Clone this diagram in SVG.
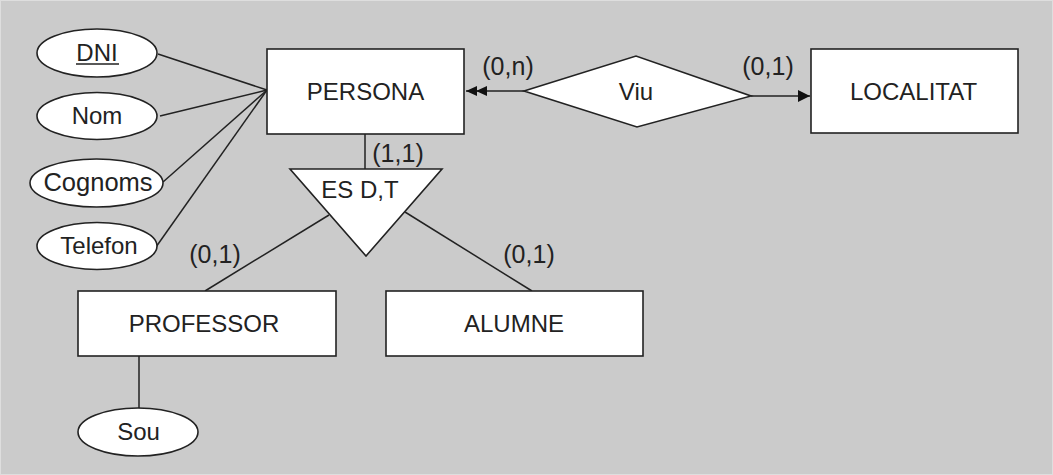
<svg xmlns="http://www.w3.org/2000/svg" width="1053" height="475" viewBox="0 0 1053 475">
<style>
.bg{fill:#cbcbcb}
.sh{fill:#fff;stroke:#222;stroke-width:1.6}
.ln{stroke:#222;stroke-width:1.5;fill:none}
text{font-family:"Liberation Sans",Arial,sans-serif;font-size:24px;fill:#222}
.lb{font-size:25px}
.c{text-anchor:middle}
</style>
<defs>
<marker id="arr" viewBox="0 0 12 12" refX="12" refY="6" markerWidth="12" markerHeight="12" markerUnits="userSpaceOnUse" orient="auto">
<path d="M0,0 L12,6 L0,12 Z" fill="#111"/>
</marker>
<marker id="darr" viewBox="0 0 21 12" refX="21" refY="6" markerWidth="21" markerHeight="12" markerUnits="userSpaceOnUse" orient="auto">
<path d="M0,1 L11,6 L0,11 Z M10,1 L21,6 L10,11 Z" fill="#111"/>
</marker>
</defs>
<rect class="bg" x="0" y="0" width="1053" height="475"/>
<rect x="0.5" y="0.5" width="1052" height="474" fill="none" stroke="#dedede" stroke-width="1"/>
<g id="connectors">
<line class="ln" x1="158" y1="54" x2="267" y2="90"/>
<line class="ln" x1="160" y1="116" x2="267" y2="90"/>
<line class="ln" x1="163" y1="182" x2="267" y2="90"/>
<line class="ln" x1="156" y1="247" x2="267" y2="90"/>
<line class="ln" x1="365" y1="134" x2="365" y2="169"/>
<line class="ln" x1="329" y1="215" x2="205" y2="291"/>
<line class="ln" x1="405" y1="212" x2="532" y2="291"/>
<line class="ln" x1="139" y1="356" x2="139" y2="408"/>
<line class="ln" x1="524" y1="91" x2="466" y2="91" marker-end="url(#darr)"/>
<line class="ln" x1="751" y1="96" x2="810" y2="96" marker-end="url(#arr)"/>
</g>
<g id="labels">
<text x="398" y="162" class="c lb">(1,1)</text>
<text x="508" y="75" class="c lb">(0,n)</text>
<text x="768" y="75" class="c lb">(0,1)</text>
<text x="215" y="263" class="c lb">(0,1)</text>
<text x="529" y="263" class="c lb">(0,1)</text>
</g>
<g id="dni">
<ellipse class="sh" cx="97" cy="53" rx="60" ry="24"/>
<text x="97" y="61" class="c">DNI</text>
<line x1="76" y1="64" x2="119" y2="64" stroke="#222" stroke-width="1.3"/>
</g>
<g id="nom">
<ellipse class="sh" cx="97" cy="116" rx="60" ry="23.5"/>
<text x="97" y="124" class="c">Nom</text>
</g>
<g id="cognoms">
<ellipse class="sh" cx="96.5" cy="183" rx="66.5" ry="24"/>
<text x="98" y="191" class="c" style="font-size:25.5px">Cognoms</text>
</g>
<g id="telefon">
<ellipse class="sh" cx="97" cy="246" rx="60" ry="23.5"/>
<text x="99" y="254" class="c">Telefon</text>
</g>
<g id="persona">
<rect class="sh" x="267" y="49" width="197" height="85"/>
<text x="365.5" y="100" class="c">PERSONA</text>
</g>
<g id="viu">
<polygon class="sh" points="524,91 636,56 751,96 637,127"/>
<text x="636" y="100" class="c">Viu</text>
</g>
<g id="localitat">
<rect class="sh" x="811" y="49" width="207" height="84"/>
<text x="913.5" y="100" class="c">LOCALITAT</text>
</g>
<g id="es">
<polygon class="sh" points="290,169 442,169 366,256"/>
<text x="360" y="198" class="c">ES D,T</text>
</g>
<g id="professor">
<rect class="sh" x="78" y="291" width="258" height="65"/>
<text x="204" y="332" class="c">PROFESSOR</text>
</g>
<g id="alumne">
<rect class="sh" x="386" y="291" width="257" height="65"/>
<text x="514" y="332" class="c">ALUMNE</text>
</g>
<g id="sou">
<ellipse class="sh" cx="138" cy="432" rx="60" ry="24"/>
<text x="138.5" y="440" class="c">Sou</text>
</g>
</svg>
